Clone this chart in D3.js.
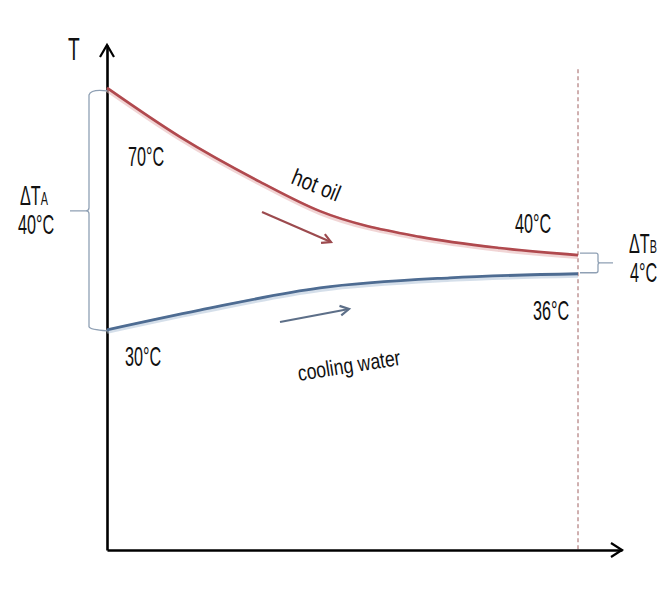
<!DOCTYPE html>
<html>
<head>
<meta charset="utf-8">
<script src="https://cdn.jsdelivr.net/npm/d3@7"></script>
<style>
  html, body { margin: 0; padding: 0; background: #fff; }
  svg { display: block; }
  text { font-family: "Liberation Sans", Arial, sans-serif; fill: #111; }
</style>
</head>
<body>
<svg id="chart" width="669" height="593"></svg>
<script>
// ---- data (schematic units: x = position along exchanger 0..100, T = schematic height 0..100) ----
const hotOilX = [0, 15.5, 32.5, 45.2, 66.5, 83.4, 100];
const hotOilT = [91.5, 81.8, 72.9, 67.1, 62.0, 59.8, 58.4];
const coolingX = [0, 19.7, 45.2, 72.8, 100];
const coolingT = [43.6, 47.5, 51.9, 53.9, 54.7];

const endLabels = ["70°C", "40°C", "30°C", "36°C"];
const deltaA = ["ΔT", "A", "40°C"];
const deltaB = ["ΔT", "B", "4°C"];
const seriesNames = ["hot oil", "cooling water"];
const axisLabel = "T";

// ---- scales ----
const x = d3.scaleLinear().domain([0, 100]).range([107, 578]);
const y = d3.scaleLinear().domain([0, 100]).range([550, 45]);
const svg = d3.select("#chart");

const hot = hotOilX.map((v, i) => [v, hotOilT[i]]);
const cool = coolingX.map((v, i) => [v, coolingT[i]]);

const line = d3.line().x(d => x(d[0])).y(d => y(d[1])).curve(d3.curveMonotoneX);

// dashed outlet line
svg.append("line")
  .attr("x1", x(100)).attr("x2", x(100))
  .attr("y1", y(95.2)).attr("y2", y(0))
  .attr("stroke", "#a06060").attr("stroke-width", 1)
  .attr("stroke-dasharray", "4,3");

// axes (no ticks)
const xa = d3.scaleLinear().domain([0, 1]).range([x(0), x(100) + 44]);
const ya = d3.scaleLinear().domain([0, 1]).range([y(0), y(100)]);
svg.append("g").attr("transform", `translate(0,${y(0)})`)
  .call(d3.axisBottom(xa).tickValues([]).tickSizeOuter(0))
  .call(g => g.select(".domain").attr("stroke", "#000").attr("stroke-width", 2.6));
svg.append("g").attr("transform", `translate(${x(0)},0)`)
  .call(d3.axisLeft(ya).tickValues([]).tickSizeOuter(0))
  .call(g => g.select(".domain").attr("stroke", "#000").attr("stroke-width", 2.6));

// arrowheads
const xt = x(100) + 44, yt = y(0);
svg.append("path").attr("d", `M${xt-11},${yt-7}L${xt},${yt}L${xt-11},${yt+7}`)
  .attr("fill", "none").attr("stroke", "#000").attr("stroke-width", 2.2);
const ytx = x(0), yty = y(100);
svg.append("path").attr("d", `M${ytx-7},${yty+12}L${ytx},${yty}L${ytx+7},${yty+12}`)
  .attr("fill", "none").attr("stroke", "#000").attr("stroke-width", 2.2);

// curves with soft shadow
svg.append("path").attr("d", line(hot)).attr("fill", "none")
  .attr("stroke", "#e7b9b9").attr("stroke-width", 5).attr("opacity", 0.6)
  .attr("transform", "translate(0,1.5)");
svg.append("path").attr("d", line(hot)).attr("fill", "none")
  .attr("stroke", "#b0494e").attr("stroke-width", 2.6);
svg.append("path").attr("d", line(cool)).attr("fill", "none")
  .attr("stroke", "#b9c9dc").attr("stroke-width", 5).attr("opacity", 0.6)
  .attr("transform", "translate(0,1.5)");
svg.append("path").attr("d", line(cool)).attr("fill", "none")
  .attr("stroke", "#4e6c92").attr("stroke-width", 2.8);

// flow arrows
function arrow(x1, y1, x2, y2, color) {
  const g = svg.append("g");
  g.append("line").attr("x1", x1).attr("y1", y1).attr("x2", x2).attr("y2", y2)
    .attr("stroke", color).attr("stroke-width", 2.2);
  const a = Math.atan2(y2 - y1, x2 - x1), L = 10, s = 0.5;
  const p1 = [x2 - L * Math.cos(a - s), y2 - L * Math.sin(a - s)];
  const p2 = [x2 - L * Math.cos(a + s), y2 - L * Math.sin(a + s)];
  g.append("path").attr("d", `M${p1}L${x2},${y2}L${p2}`)
    .attr("fill", "none").attr("stroke", color).attr("stroke-width", 2.2);
}
arrow(262, 212, 331, 242, "#9c4a4e");
arrow(280, 322, 349, 309, "#5d6f88");

// braces
const braceColor = "#8fa0b4";
const bTop = y(hotOilT[0]) + 4, bBot = y(coolingT[0]);
const bx = 89, bMid = (bTop + bBot) / 2;
svg.append("path")
  .attr("d", `M${x(0)},${bTop-1}Q${bx+2},${bTop-3} ${bx},${bTop+3}L${bx},${bMid-3}Q${bx},${bMid} ${bx-3},${bMid}L${bx-19},${bMid}M${bx-3},${bMid}Q${bx},${bMid} ${bx},${bMid+3}L${bx},${bBot-3}Q${bx+1},${bBot} ${x(0)},${bBot+1}`)
  .attr("fill", "none").attr("stroke", braceColor).attr("stroke-width", 1.3);
const rTop = y(hotOilT[hotOilT.length-1]) - 2, rBot = y(coolingT[coolingT.length-1]) - 1;
const rx = 598, rMid = (rTop + rBot) / 2;
svg.append("path")
  .attr("d", `M${x(100)+2},${rTop}L${rx-2},${rTop}Q${rx},${rTop} ${rx},${rTop+2}L${rx},${rMid-2}Q${rx},${rMid} ${rx+2},${rMid}L${rx+15},${rMid}M${rx+2},${rMid}Q${rx},${rMid} ${rx},${rMid+2}L${rx},${rBot-2}Q${rx},${rBot} ${rx-2},${rBot}L${x(100)+2},${rBot}`)
  .attr("fill", "none").attr("stroke", braceColor).attr("stroke-width", 1.3);

// text labels (narrow, tall glyphs)
const fs = 27, sx = 0.6;
function label(t, px, py, size, scale, rot) {
  return svg.append("text")
    .attr("transform", `translate(${px},${py}) rotate(${rot || 0}) scale(${scale || sx},1)`)
    .attr("font-size", size || fs).text(t);
}
label(axisLabel, 68, 60, 32, 0.6);
label(endLabels[0], 128, 166);
label(endLabels[1], 515, 233);
label(endLabels[2], 125, 366);
label(endLabels[3], 533, 320);

function delta(parts, px, py, dx2) {
  const t = svg.append("text")
    .attr("transform", `translate(${px},${py}) scale(${sx},1)`).attr("font-size", fs);
  t.append("tspan").text(parts[0]);
  t.append("tspan").attr("font-size", 18).text(parts[1]);
  label(parts[2], px + dx2, py + 29);
}
delta(deltaA, 20, 205, -2);
delta(deltaB, 629, 253, 1);

label(seriesNames[0], 290, 183, 23, 0.82, 22);
label(seriesNames[1], 299, 381, 22, 0.8, -9);
</script>
</body>
</html>
